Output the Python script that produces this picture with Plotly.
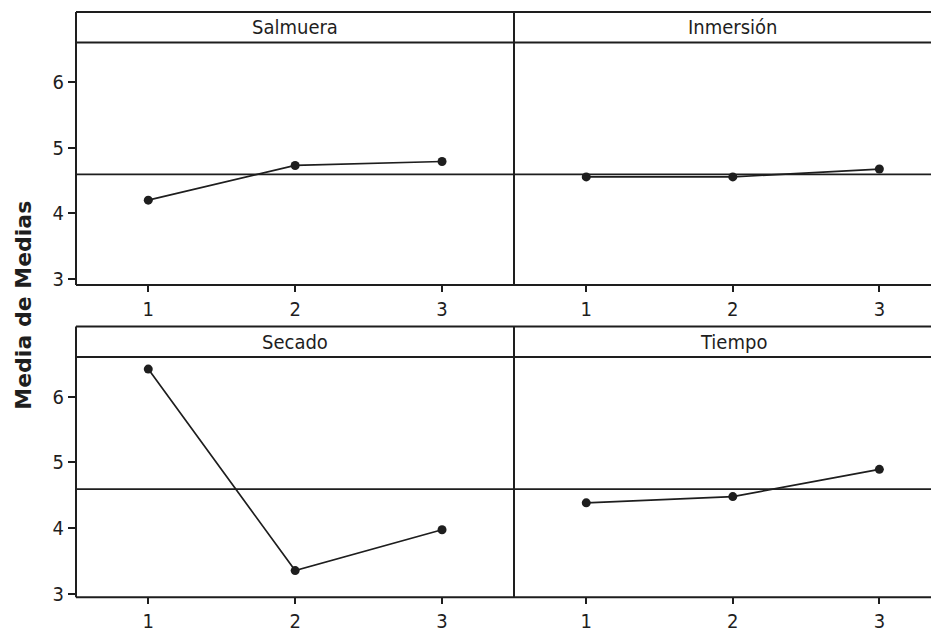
import plotly.graph_objects as go

# ---- data ----
levels = [1, 2, 3]
factors = ["Salmuera", "Inmersión", "Secado", "Tiempo"]
salmuera = [4.20, 4.73, 4.79]
inmersion = [4.555, 4.555, 4.675]
secado = [6.42, 3.355, 3.975]
tiempo = [4.385, 4.48, 4.895]
grand_mean = 4.595
y_ticks = [3, 4, 5, 6]
y_title = "Media de Medias"

series = [salmuera, inmersion, secado, tiempo]

OFF = 8  # default page body margin
W, H = 939 - OFF, 640 - OFF
FONT = "DejaVu Sans Condensed, DejaVu Sans, sans-serif"
INK = "#1e1e1e"

def fx(px):
    return (px - OFF) / W

def fy(py):
    return 1 - (py - OFF) / H

# panel geometry in page pixels
cols = [(76, 514), (514, 939)]
rows = [  # (box top, strip bottom, plot bottom)
    (12, 43, 289),
    (331, 362, 605.7),
]
xranges = [[0.508, 3.49], [0.507, 3.407]]
yranges = [[2.905, 6.607], [2.95, 6.604]]

fig = go.Figure()
shapes = []
annotations = []

for i, (name, vals) in enumerate(zip(factors, series)):
    r, c = divmod(i, 2)
    n = i + 1
    xa = "xaxis" if n == 1 else f"xaxis{n}"
    ya = "yaxis" if n == 1 else f"yaxis{n}"
    xr = "x" if n == 1 else f"x{n}"
    yr = "y" if n == 1 else f"y{n}"
    x0, x1 = cols[c]
    top, sb, bot = rows[r]

    fig.add_trace(go.Scatter(
        x=levels, y=vals, xaxis=xr, yaxis=yr, mode="lines+markers",
        line=dict(color=INK, width=1.7),
        marker=dict(color=INK, size=9),
        showlegend=False, hoverinfo="x+y",
    ))

    fig.layout[xa] = dict(
        domain=[fx(x0), min(fx(x1), 1)], range=xranges[c], anchor=yr,
        tickvals=levels, ticktext=[str(v) for v in levels],
        ticks="outside", ticklen=6, tickwidth=1.5, tickcolor=INK,
        showgrid=False, zeroline=False, showline=False,
        tickfont=dict(family=FONT, size=20, color=INK),
    )
    fig.layout[ya] = dict(
        domain=[fy(bot), fy(sb)], range=yranges[r], anchor=xr,
        tickvals=y_ticks, ticks="outside" if c == 0 else "",
        ticklen=7, tickwidth=1.5, tickcolor=INK,
        showticklabels=(c == 0),
        showgrid=False, zeroline=False, showline=False,
        tickfont=dict(family=FONT, size=20, color=INK),
    )

    # reference line at grand mean
    shapes.append(dict(type="line", xref=f"{xr} domain", yref=yr,
                       x0=0, x1=1, y0=grand_mean, y1=grand_mean,
                       line=dict(color=INK, width=1.8)))

    # strip title
    cx = (x0 + x1) / 2 if c == 0 else (x0 + 952) / 2
    annotations.append(dict(
        text=name, xref="paper", yref="paper",
        x=fx(cx), y=fy((top + sb) / 2), showarrow=False,
        xanchor="center", yanchor="middle",
        font=dict(family=FONT, size=20, color=INK),
    ))

# frame lines
def hline(py, xa, xb):
    shapes.append(dict(type="line", xref="paper", yref="paper",
                       x0=fx(xa), x1=fx(xb), y0=fy(py), y1=fy(py),
                       line=dict(color=INK, width=2)))

def vline(px, ya, yb):
    shapes.append(dict(type="line", xref="paper", yref="paper",
                       x0=fx(px), x1=fx(px), y0=fy(ya), y1=fy(yb),
                       line=dict(color=INK, width=2)))

for top, sb, bot in rows:
    hline(top, 76, 940)
    hline(sb, 76, 940)
    hline(bot, 76, 940)
    vline(76, top, bot)
    vline(514, top, bot)

annotations.append(dict(
    text=f"<b>{y_title}</b>", xref="paper", yref="paper",
    x=fx(24), y=fy(310), textangle=-90, showarrow=False,
    xanchor="center", yanchor="middle",
    font=dict(family="DejaVu Sans, sans-serif", size=22, color=INK),
))

fig.update_layout(
    width=W, height=H, margin=dict(l=0, r=0, t=0, b=0),
    paper_bgcolor="white", plot_bgcolor="white",
    shapes=shapes, annotations=annotations,
)

fig.write_html("out.html")
